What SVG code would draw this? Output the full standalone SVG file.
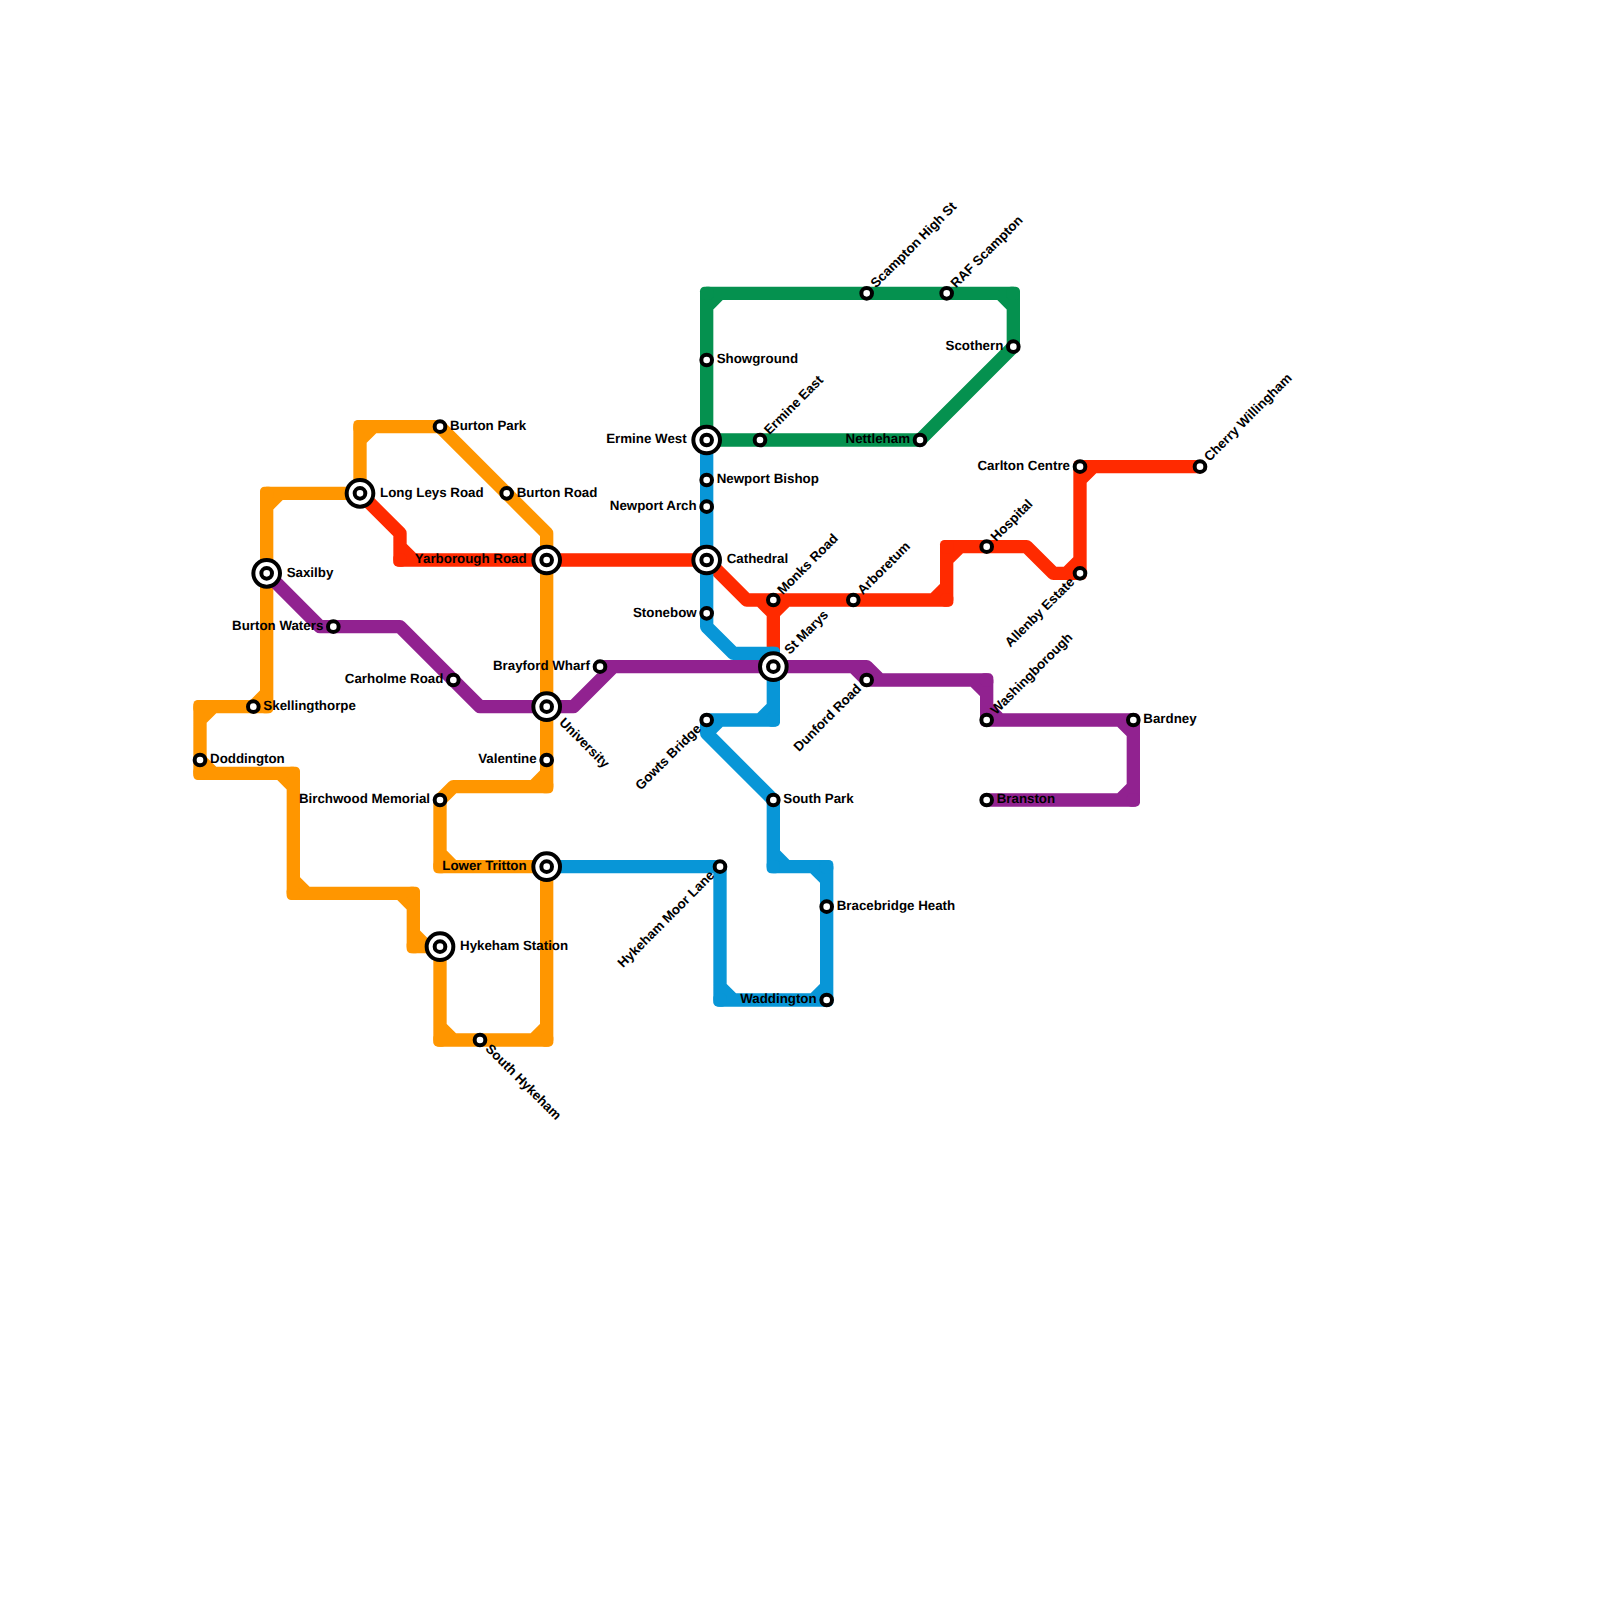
<svg xmlns="http://www.w3.org/2000/svg" width="1600" height="1600" viewBox="0 0 1600 1600">
<style>
.l{fill:none;stroke-width:13.33;stroke-linejoin:round;stroke-linecap:round}
.o{stroke:#ff9600}.r{stroke:#ff2a00}.b{stroke:#0896d7}.g{stroke:#05914f}.p{stroke:#912290}
.s,.i{fill:#fff;stroke:#000;stroke-width:4}
text{font-family:"Liberation Sans",Arial,sans-serif;font-weight:700;font-size:13.33px;fill:#000;text-rendering:geometricPrecision}
.e{text-anchor:end}
</style>
<defs><rect id="c" x="-6.67" y="-6.67" width="13.33" height="13.33" rx="4.5"/></defs>
<rect width="1600" height="1600" fill="#fff"/>
<g id="connectors">
<path id="line-orange" class="l o" d="M440 426.67H360V493.33M360 440L373.33 426.67M360 493.33H266.67V706.67H200V773.33H293.33V893.33H413.33V946.67H440M266.67 506.67L280 493.33M253.33 706.67L266.67 693.33M200 720L213.33 706.67M200 760L213.33 773.33M280 773.33L293.33 786.67M293.33 880L306.67 893.33M400 893.33L413.33 906.67M413.33 933.33L426.67 946.67M440 946.67V1040H546.67V866.67H440V800L453.33 786.67H546.67V533.33L440 426.67M440 1026.67L453.33 1040M533.33 1040L546.67 1026.67M440 853.33L453.33 866.67M533.33 786.67L546.67 773.33"/>
<g fill="#ff9600"><use href="#c" x="360" y="426.67"/><use href="#c" x="266.67" y="493.33"/><use href="#c" x="266.67" y="706.67"/><use href="#c" x="200" y="706.67"/><use href="#c" x="200" y="773.33"/><use href="#c" x="293.33" y="773.33"/><use href="#c" x="293.33" y="893.33"/><use href="#c" x="413.33" y="893.33"/><use href="#c" x="413.33" y="946.67"/><use href="#c" x="440" y="1040"/><use href="#c" x="546.67" y="1040"/><use href="#c" x="440" y="866.67"/><use href="#c" x="546.67" y="786.67"/></g>
<path id="line-red" class="l r" d="M360 493.33L400 533.33V560H706.67L746.67 600H946.67V546.67H1026.67L1053.33 573.33H1080V466.67H1200M400 546.67L413.33 560M933.33 600L946.67 586.67M946.67 560L960 546.67M1066.67 573.33L1080 560M1080 480L1093.33 466.67M773.33 600V666.67M760 600L773.33 613.33L786.67 600"/>
<g fill="#ff2a00"><use href="#c" x="400" y="560"/><use href="#c" x="946.67" y="600"/><use href="#c" x="946.67" y="546.67"/><use href="#c" x="1080" y="573.33"/><use href="#c" x="1080" y="466.67"/></g>
<path id="line-blue" class="l b" d="M706.67 440V626.67L733.33 653.33H773.33V720H706.67V733.33L773.33 800V866.67H826.67V1000H720V866.67H546.67M760 720L773.33 706.67M706.67 733.33L720 720M773.33 853.33L786.67 866.67M813.33 866.67L826.67 880M813.33 1000L826.67 986.67M720 986.67L733.33 1000"/>
<g fill="#0896d7"><use href="#c" x="773.33" y="653.33"/><use href="#c" x="773.33" y="720"/><use href="#c" x="773.33" y="866.67"/><use href="#c" x="826.67" y="866.67"/><use href="#c" x="826.67" y="1000"/><use href="#c" x="720" y="1000"/></g>
<path id="line-green" class="l g" d="M706.67 440V293.33H1013.33V346.67L920 440H706.67M706.67 306.67L720 293.33M1000 293.33L1013.33 306.67"/>
<g fill="#05914f"><use href="#c" x="706.67" y="293.33"/><use href="#c" x="1013.33" y="293.33"/></g>
<path id="line-purple" class="l p" d="M266.67 573.33L320 626.67H400L480 706.67H573.33L613.33 666.67H866.67L880 680H986.67V720H1133.33V800H986.67M600 666.67H613.33M853.33 666.67L866.67 680H880M973.33 680L986.67 693.33M986.67 706.67L1000 720M1120 720L1133.33 733.33M1120 800L1133.33 786.67"/>
<g fill="#912290"><use href="#c" x="986.67" y="680"/><use href="#c" x="986.67" y="720"/><use href="#c" x="1133.33" y="720"/><use href="#c" x="1133.33" y="800"/></g>
</g>
<g id="n-doddington"><circle class="s" cx="200" cy="760" r="5.33"/><text x="210" y="763.33">Doddington</text></g>
<g id="n-skellingthorpe"><circle class="s" cx="253.33" cy="706.67" r="5.33"/><text x="263.33" y="710">Skellingthorpe</text></g>
<g id="n-saxilby"><circle class="i" cx="266.67" cy="573.33" r="13.33"/><circle class="s" cx="266.67" cy="573.33" r="5.33"/><text x="286.67" y="576.67">Saxilby</text></g>
<g id="n-long-leys-road"><circle class="i" cx="360" cy="493.33" r="13.33"/><circle class="s" cx="360" cy="493.33" r="5.33"/><text x="380" y="496.67">Long Leys Road</text></g>
<g id="n-burton-park"><circle class="s" cx="440" cy="426.67" r="5.33"/><text x="450" y="430">Burton Park</text></g>
<g id="n-burton-road"><circle class="s" cx="506.67" cy="493.33" r="5.33"/><text x="516.67" y="496.67">Burton Road</text></g>
<g id="n-yarborough-road"><circle class="i" cx="546.67" cy="560" r="13.33"/><circle class="s" cx="546.67" cy="560" r="5.33"/><text class="e" x="526.67" y="563.33">Yarborough Road</text></g>
<g id="n-university"><circle class="i" cx="546.67" cy="706.67" r="13.33"/><circle class="s" cx="546.67" cy="706.67" r="5.33"/><text transform="rotate(45 546.67 706.67)" x="566.67" y="710">University</text></g>
<g id="n-burton-waters"><circle class="s" cx="333.33" cy="626.67" r="5.33"/><text class="e" x="323.33" y="630">Burton Waters</text></g>
<g id="n-carholme-road"><circle class="s" cx="453.33" cy="680" r="5.33"/><text class="e" x="443.33" y="683.33">Carholme Road</text></g>
<g id="n-valentine"><circle class="s" cx="546.67" cy="760" r="5.33"/><text class="e" x="536.67" y="763.33">Valentine</text></g>
<g id="n-birchwood-memorial"><circle class="s" cx="440" cy="800" r="5.33"/><text class="e" x="430" y="803.33">Birchwood Memorial</text></g>
<g id="n-lower-tritton"><circle class="i" cx="546.67" cy="866.67" r="13.33"/><circle class="s" cx="546.67" cy="866.67" r="5.33"/><text class="e" x="526.67" y="870">Lower Tritton</text></g>
<g id="n-hykeham-station"><circle class="i" cx="440" cy="946.67" r="13.33"/><circle class="s" cx="440" cy="946.67" r="5.33"/><text x="460" y="950">Hykeham Station</text></g>
<g id="n-south-hykeham"><circle class="s" cx="480" cy="1040" r="5.33"/><text transform="rotate(45 480 1040)" x="490" y="1043.33">South Hykeham</text></g>
<g id="n-hykeham-moor-lane"><circle class="s" cx="720" cy="866.67" r="5.33"/><text class="e" transform="rotate(-45 720 866.67)" x="710" y="870">Hykeham Moor Lane</text></g>
<g id="n-south-park"><circle class="s" cx="773.33" cy="800" r="5.33"/><text x="783.33" y="803.33">South Park</text></g>
<g id="n-bracebridge-heath"><circle class="s" cx="826.67" cy="906.67" r="5.33"/><text x="836.67" y="910">Bracebridge Heath</text></g>
<g id="n-waddington"><circle class="s" cx="826.67" cy="1000" r="5.33"/><text class="e" x="816.67" y="1003.33">Waddington</text></g>
<g id="n-brayford-wharf"><circle class="s" cx="600" cy="666.67" r="5.33"/><text class="e" x="590" y="670">Brayford Wharf</text></g>
<g id="n-ermine-west"><circle class="i" cx="706.67" cy="440" r="13.33"/><circle class="s" cx="706.67" cy="440" r="5.33"/><text class="e" x="686.67" y="443.33">Ermine West</text></g>
<g id="n-newport-bishop"><circle class="s" cx="706.67" cy="480" r="5.33"/><text x="716.67" y="483.33">Newport Bishop</text></g>
<g id="n-newport-arch"><circle class="s" cx="706.67" cy="506.67" r="5.33"/><text class="e" x="696.67" y="510">Newport Arch</text></g>
<g id="n-cathedral"><circle class="i" cx="706.67" cy="560" r="13.33"/><circle class="s" cx="706.67" cy="560" r="5.33"/><text x="726.67" y="563.33">Cathedral</text></g>
<g id="n-stonebow"><circle class="s" cx="706.67" cy="613.33" r="5.33"/><text class="e" x="696.67" y="616.67">Stonebow</text></g>
<g id="n-gowts-bridge"><circle class="s" cx="706.67" cy="720" r="5.33"/><text class="e" transform="rotate(-45 706.67 720)" x="696.67" y="723.33">Gowts Bridge</text></g>
<g id="n-st-marys"><circle class="i" cx="773.33" cy="666.67" r="13.33"/><circle class="s" cx="773.33" cy="666.67" r="5.33"/><text transform="rotate(-45 773.33 666.67)" x="793.33" y="670">St Marys</text></g>
<g id="n-monks-road"><circle class="s" cx="773.33" cy="600" r="5.33"/><text transform="rotate(-45 773.33 600)" x="783.33" y="603.33">Monks Road</text></g>
<g id="n-arboretum"><circle class="s" cx="853.33" cy="600" r="5.33"/><text transform="rotate(-45 853.33 600)" x="863.33" y="603.33">Arboretum</text></g>
<g id="n-dunford-road"><circle class="s" cx="866.67" cy="680" r="5.33"/><text class="e" transform="rotate(-45 866.67 680)" x="856.67" y="683.33">Dunford Road</text></g>
<g id="n-hospital"><circle class="s" cx="986.67" cy="546.67" r="5.33"/><text transform="rotate(-45 986.67 546.67)" x="996.67" y="550">Hospital</text></g>
<g id="n-carlton-centre"><circle class="s" cx="1080" cy="466.67" r="5.33"/><text class="e" x="1070" y="470">Carlton Centre</text></g>
<g id="n-allenby-estate"><circle class="s" cx="1080" cy="573.33" r="5.33"/><text class="e" transform="rotate(-45 1080 573.33)" x="1070" y="576.67">Allenby Estate</text></g>
<g id="n-cherry-willingham"><circle class="s" cx="1200" cy="466.67" r="5.33"/><text transform="rotate(-45 1200 466.67)" x="1210" y="470">Cherry Willingham</text></g>
<g id="n-washingborough"><circle class="s" cx="986.67" cy="720" r="5.33"/><text transform="rotate(-45 986.67 720)" x="996.67" y="723.33">Washingborough</text></g>
<g id="n-bardney"><circle class="s" cx="1133.33" cy="720" r="5.33"/><text x="1143.33" y="723.33">Bardney</text></g>
<g id="n-branston"><circle class="s" cx="986.67" cy="800" r="5.33"/><text x="996.67" y="803.33">Branston</text></g>
<g id="n-showground"><circle class="s" cx="706.67" cy="360" r="5.33"/><text x="716.67" y="363.33">Showground</text></g>
<g id="n-ermine-east"><circle class="s" cx="760" cy="440" r="5.33"/><text transform="rotate(-45 760 440)" x="770" y="443.33">Ermine East</text></g>
<g id="n-nettleham"><circle class="s" cx="920" cy="440" r="5.33"/><text class="e" x="910" y="443.33">Nettleham</text></g>
<g id="n-scothern"><circle class="s" cx="1013.33" cy="346.67" r="5.33"/><text class="e" x="1003.33" y="350">Scothern</text></g>
<g id="n-scampton-high-st"><circle class="s" cx="866.67" cy="293.33" r="5.33"/><text transform="rotate(-45 866.67 293.33)" x="876.67" y="296.67">Scampton High St</text></g>
<g id="n-raf-scampton"><circle class="s" cx="946.67" cy="293.33" r="5.33"/><text transform="rotate(-45 946.67 293.33)" x="956.67" y="296.67">RAF Scampton</text></g>
</svg>
